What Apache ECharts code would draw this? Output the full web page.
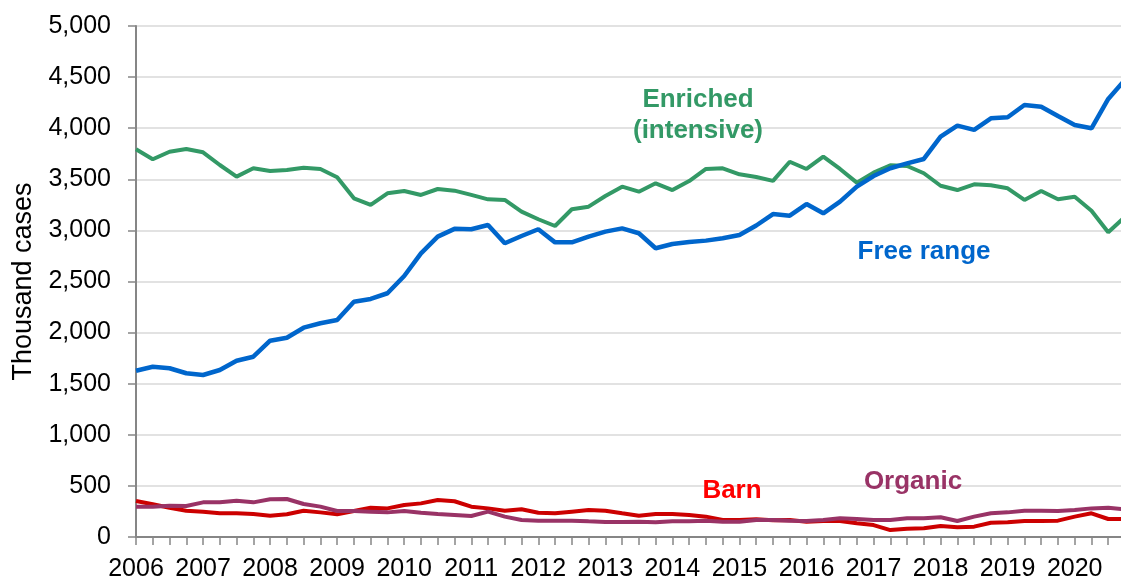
<!DOCTYPE html>
<html>
<head>
<meta charset="utf-8">
<script src="https://cdn.jsdelivr.net/npm/echarts@6/dist/echarts.min.js"></script>
<style>
html,body{margin:0;padding:0;background:#fff;}
#chart{width:1121px;height:579px;}
</style>
</head>
<body>
<div id="chart"></div>
<script>
// Quarterly periods, 2006 Q1 .. 2020 Q4
const years = [2006,2007,2008,2009,2010,2011,2012,2013,2014,2015,2016,2017,2018,2019,2020];
const quarters = [];
years.forEach(y => { for (let q = 1; q <= 4; q++) quarters.push(y + ' Q' + q); });

const enriched = [3794,3696,3770,3797,3764,3640,3526,3608,3581,3591,
                  3614,3601,3520,3314,3249,3363,3386,3347,3405,3389,
                  3347,3304,3298,3183,3109,3043,3207,3232,3337,3428,
                  3379,3461,3395,3483,3601,3608,3549,3523,3485,3672,
                  3601,3721,3601,3467,3565,3637,3630,3559,3437,3395,
                  3451,3441,3412,3298,3386,3304,3330,3193,2981,3133];
const freeRange = [1627,1666,1651,1602,1585,1634,1725,1764,1921,1950,
                   2048,2091,2123,2302,2329,2385,2554,2776,2939,3015,
                   3011,3053,2874,2945,3011,2883,2883,2939,2988,3020,
                   2972,2825,2867,2887,2900,2923,2955,3048,3160,3144,
                   3258,3167,3281,3428,3532,3608,3656,3699,3917,4025,
                   3983,4097,4107,4227,4210,4119,4031,3999,4286,4474];
const barn = [352,320,287,257,248,232,232,225,208,222,
              257,241,222,254,287,280,313,329,362,350,
              297,280,257,271,238,232,248,264,257,232,
              208,225,225,215,199,166,166,173,163,166,
              150,157,157,134,117,68,81,85,108,95,
              101,140,144,157,157,160,199,232,176,176];
const organic = [297,297,306,303,339,339,355,339,369,372,
                 323,297,254,254,248,241,254,238,225,215,
                 205,248,199,166,160,160,160,153,147,147,
                 150,144,153,153,160,150,150,166,166,160,
                 157,166,183,176,166,166,183,183,193,157,
                 199,232,241,257,257,254,264,280,287,270];

const FONT = '"Liberation Sans", Arial, sans-serif';
const chart = echarts.init(document.getElementById('chart'), null, {renderer: 'canvas'});

function note(text, x, y, color) {
  return {type: 'text', x: x, y: y, z: 100,
    style: {text: text, fill: color, font: 'bold 26px ' + FONT, align: 'center', verticalAlign: 'middle'}};
}

chart.setOption({
  animation: false,
  backgroundColor: '#ffffff',
  grid: {left: 136, top: 26, width: 989, height: 511, containLabel: false, outerBoundsMode: 'none'},
  xAxis: {
    type: 'category',
    data: quarters,
    boundaryGap: false,
    axisLine: {show: true, lineStyle: {color: '#868686', width: 2}},
    axisTick: {show: true, interval: 0, length: 8, lineStyle: {color: '#868686', width: 1.5}},
    axisLabel: {
      interval: 3, margin: 20, color: '#000', fontSize: 25, fontFamily: FONT,
      formatter: v => v.split(' ')[0]
    },
    splitLine: {show: false}
  },
  yAxis: {
    type: 'value',
    min: 0, max: 5000, interval: 500,
    name: 'Thousand cases',
    nameLocation: 'middle',
    nameGap: 99,
    nameTextStyle: {color: '#000', fontSize: 27, fontFamily: FONT},
    axisLine: {show: true, lineStyle: {color: '#868686', width: 2}},
    axisTick: {show: true, inside: false, length: 8, lineStyle: {color: '#868686', width: 1.5}},
    axisLabel: {
      margin: 25, color: '#000', fontSize: 25, fontFamily: FONT,
      formatter: v => v.toLocaleString('en-US')
    },
    splitLine: {show: true, lineStyle: {color: '#d9d9d9', width: 1.5}}
  },
  series: [
    {name: 'Barn', type: 'line', data: barn, symbol: 'none', lineStyle: {color: '#cc0000', width: 4}, itemStyle: {color: '#cc0000'}},
    {name: 'Organic', type: 'line', data: organic, symbol: 'none', lineStyle: {color: '#993366', width: 4}, itemStyle: {color: '#993366'}},
    {name: 'Enriched (intensive)', type: 'line', data: enriched, symbol: 'none', lineStyle: {color: '#339966', width: 4}, itemStyle: {color: '#339966'}},
    {name: 'Free range', type: 'line', data: freeRange, symbol: 'none', lineStyle: {color: '#0066cc', width: 4.5}, itemStyle: {color: '#0066cc'}}
  ],
  graphic: [
    note('Enriched', 698, 100, '#339966'),
    note('(intensive)', 698, 131, '#339966'),
    note('Free range', 924, 252, '#0066cc'),
    note('Barn', 732, 491, '#ff0000'),
    note('Organic', 913, 482, '#993366')
  ]
});
</script>
</body>
</html>
